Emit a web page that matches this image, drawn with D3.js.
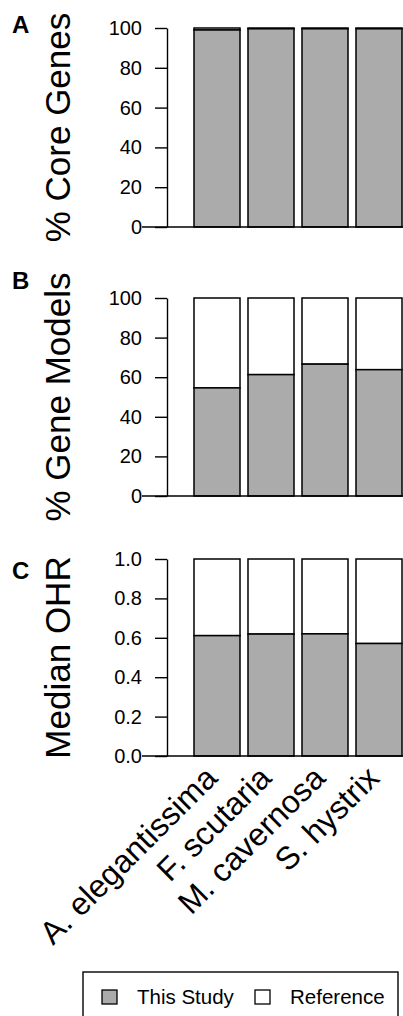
<!DOCTYPE html>
<html>
<head>
<meta charset="utf-8">
<script src="https://cdn.jsdelivr.net/npm/d3@7"></script>
<style>
  body { margin: 0; background: #fff; }
  text { font-family: "Liberation Sans", Arial, sans-serif; fill: #000; }
</style>
</head>
<body>
<script>
// species on the x axis
const species = ["A. elegantissima", "F. scutaria", "M. cavernosa", "S. hystrix"];
// panel values (this study part), the rest of each bar is reference
const coreGenes = [99.0, 99.6, 99.6, 99.6];
const geneModels = [54.6, 61.3, 66.6, 63.8];
const medianOHR = [0.611, 0.619, 0.620, 0.571];
// tick labels
const pctTicks = [0, 20, 40, 60, 80, 100];
const ohrTicks = [0, 0.2, 0.4, 0.6, 0.8, 1.0];
const legendLabels = ["This Study", "Reference"];

const w = 403, h = 1016;
const grey = "#ababab";

const svg = d3.select("body").append("svg")
  .attr("width", w)
  .attr("height", h);

const x = d3.scaleBand()
  .domain(species)
  .range([190, 406])
  .paddingInner(0.148)
  .paddingOuter(0.074);

const panels = [
  {letter: "A", title: "% Core Genes", values: coreGenes, max: 100, ticks: pctTicks, fmt: d3.format("d"), top: 28, bottom: 227, letterY: 33},
  {letter: "B", title: "% Gene Models", values: geneModels, max: 100, ticks: pctTicks, fmt: d3.format("d"), top: 298, bottom: 496, letterY: 289},
  {letter: "C", title: "Median OHR", values: medianOHR, max: 1, ticks: ohrTicks, fmt: d3.format(".1f"), top: 559, bottom: 756, letterY: 579}
];

panels.forEach(p => {
  const y = d3.scaleLinear().domain([0, p.max]).range([p.bottom, p.top]);
  const g = svg.append("g");

  // bars: white reference block on top, grey for this study
  const bars = g.selectAll(".bar")
    .data(species.map((s, i) => ({s: s, v: p.values[i]})))
    .enter().append("g");
  bars.append("rect")
    .attr("x", d => x(d.s))
    .attr("width", x.bandwidth())
    .attr("y", y(p.max))
    .attr("height", d => y(d.v) - y(p.max))
    .attr("fill", "#fff")
    .attr("stroke", "#000")
    .attr("stroke-width", 1.5);
  bars.append("rect")
    .attr("x", d => x(d.s))
    .attr("width", x.bandwidth())
    .attr("y", d => y(d.v))
    .attr("height", d => y(0) - y(d.v))
    .attr("fill", grey)
    .attr("stroke", "#000")
    .attr("stroke-width", 1.5);

  // baseline
  g.append("line")
    .attr("x1", 142).attr("x2", w)
    .attr("y1", y(0)).attr("y2", y(0))
    .attr("stroke", "#000")
    .attr("stroke-width", 1.4);

  // y axis
  const ax = g.append("g")
    .attr("transform", "translate(167,0)")
    .call(d3.axisLeft(y).tickValues(p.ticks).tickFormat(p.fmt).tickSize(12).tickSizeOuter(0));
  ax.select(".domain").attr("stroke-width", 1.4);
  ax.selectAll(".tick line").attr("stroke-width", 1.4);
  ax.selectAll(".tick text")
    .attr("x", -25)
    .style("font-size", "20px");

  // y title
  g.append("text")
    .attr("transform", `translate(70,${(p.top + p.bottom) / 2}) rotate(-90)`)
    .attr("text-anchor", "middle")
    .style("font-size", "35px")
    .text(p.title);

  // panel letter
  g.append("text")
    .attr("x", 12)
    .attr("y", p.letterY)
    .style("font-size", "24px")
    .style("font-weight", "bold")
    .text(p.letter);
});

// species labels under the last panel
svg.selectAll(".xlab")
  .data(species)
  .enter().append("text")
  .attr("class", "xlab")
  .attr("transform", d => `translate(${x(d) + x.bandwidth() / 2 + 2},780) rotate(-45)`)
  .attr("text-anchor", "end")
  .style("font-size", "32px")
  .text(d => d);

// legend
const lg = svg.append("g");
lg.append("rect")
  .attr("x", 83).attr("y", 972)
  .attr("width", 315).attr("height", 60)
  .attr("fill", "none")
  .attr("stroke", "#000")
  .attr("stroke-width", 1.4);
const items = [
  {label: legendLabels[0], fill: grey, bx: 102, tx: 137},
  {label: legendLabels[1], fill: "#fff", bx: 255, tx: 290}
];
items.forEach(it => {
  lg.append("rect")
    .attr("x", it.bx).attr("y", 990)
    .attr("width", 15).attr("height", 14)
    .attr("fill", it.fill)
    .attr("stroke", "#000")
    .attr("stroke-width", 1.3);
  lg.append("text")
    .attr("x", it.tx)
    .attr("y", 1004)
    .style("font-size", "20.5px")
    .text(it.label);
});
</script>
</body>
</html>
